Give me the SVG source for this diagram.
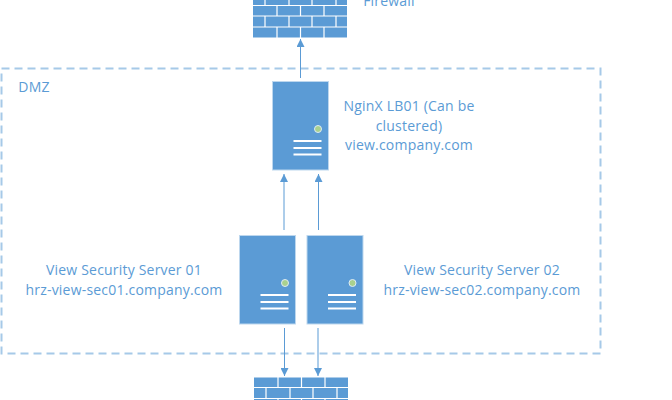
<svg xmlns="http://www.w3.org/2000/svg" width="672" height="400" viewBox="0 0 672 400">
<style>
text{font-family:"Open Sans","Noto Sans","Liberation Sans",sans-serif;font-size:14px;letter-spacing:.2px;fill:#5b9bd5;text-anchor:middle}
.srv{fill:#5b9bd5;stroke:#bdd7ee;stroke-width:1}
.dot{fill:#a9d18e;stroke:#deebf7;stroke-width:1}
.bar{stroke:#fff;stroke-width:2}
.brick{fill:#5b9bd5}
.joint{stroke:#fff;stroke-width:1.2}
.conn{stroke:#5b9bd5;stroke-width:1;fill:none;marker-end:url(#arrow)}
.zone{fill:none;stroke:#a6c9e8;stroke-width:2;stroke-dasharray:8 5}
</style>
<defs>
<marker id="arrow" markerUnits="userSpaceOnUse" markerWidth="9" markerHeight="8" refX="8" refY="4" orient="auto"><path d="M0 0L8 4L0 8Z" fill="#5b9bd5"/></marker>
<g id="brickwall">
<rect class="brick" x="0" y="-11" width="94" height="54"/>
<path class="joint" fill="none" d="M0 0H94M0 10.500H94M0 21.500H94M0 32.500H94M12 -11V0M36 -11V0M59 -11V0M83 -11V0M24 0V10.500M47.500 0V10.500M71 0V10.500M12 10.500V21.500M36 10.500V21.500M59 10.500V21.500M83 10.500V21.500M24 21.500V32.500M47.500 21.500V32.500M71 21.500V32.500M12 32.500V43M36 32.500V43M59 32.500V43M83 32.500V43"/>
</g>
<g id="srvbody">
<rect class="srv" x="0" y="0" width="56" height="88.500"/>
<circle class="dot" cx="45.500" cy="47.500" r="3.500"/>
<path class="bar" d="M21 59.500H49M21 66.500H49M21 73H49"/>
</g>
</defs>
<rect width="672" height="400" fill="#fff"/>
<g id="dmz"><rect class="zone" x="1.500" y="68.500" width="599" height="285"/><text x="34" y="92">DMZ</text></g>
<g id="connectors">
<path class="conn" d="M300.500 78V39"/>
<path class="conn" d="M284 230V174"/>
<path class="conn" d="M318.500 230V174"/>
<path class="conn" d="M284.500 328V376"/>
<path class="conn" d="M318 328V376"/>
</g>
<g id="firewall-top"><svg x="253" y="0" width="94" height="38" viewBox="0 -5.500 94 38"><use href="#brickwall"/></svg><text x="389" y="6">Firewall</text></g>
<g id="nginx"><use href="#srvbody" x="272.500" y="81.500"/><text x="409" y="111">NginX LB01 (Can be</text><text x="409" y="131">clustered)</text><text x="409" y="150">view.company.com</text></g>
<g id="sec01"><use href="#srvbody" x="239.500" y="235.500"/><text x="124" y="275">View Security Server 01</text><text x="124" y="295">hrz-view-sec01.company.com</text></g>
<g id="sec02"><use href="#srvbody" x="307" y="235.500"/><text x="482" y="275">View Security Server 02</text><text x="482" y="295">hrz-view-sec02.company.com</text></g>
<g id="firewall-bottom"><svg x="254" y="377" width="94" height="23" viewBox="0 0 94 23"><use href="#brickwall"/></svg></g>
</svg>
